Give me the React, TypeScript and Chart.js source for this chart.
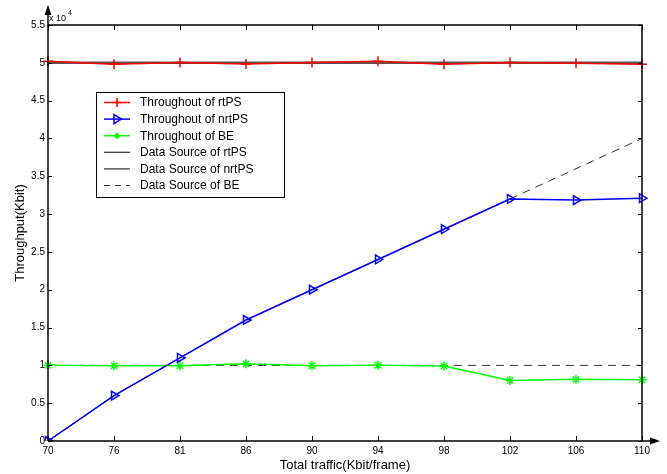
import React, { useEffect, useRef } from "react";
import { Chart, registerables } from "chart.js";

Chart.register(...registerables);

const categories = ["70", "76", "81", "86", "90", "94", "98", "102", "106", "110"];
const rtpsThroughput = [50200, 49800, 50050, 49850, 50050, 50200, 49800, 50050, 49950, 49800];
const nrtpsThroughput = [0, 6000, 11000, 16000, 20000, 24000, 28000, 32000, 31850, 32100];
const beThroughput = [10000, 9950, 9950, 10200, 9950, 10000, 9900, 8000, 8150, 8100];
const rtpsSource = [50000, 50000, 50000, 50000, 50000, 50000, 50000, 50000, 50000, 50000];
const nrtpsSource = [0, 6000, 11000, 16000, 20000, 24000, 28000, 32000, 36000, 40000];
const beSource = [10000, 10000, 10000, 10000, 10000, 10000, 10000, 10000, 10000, 10000];
const yTickValues = [0, 5000, 10000, 15000, 20000, 25000, 30000, 35000, 40000, 45000, 50000, 55000];
const legendLabels = [
  "Throughout of rtPS",
  "Throughout of nrtPS",
  "Throughout of BE",
  "Data Source of rtPS",
  "Data Source of nrtPS",
  "Data Source of BE",
];

const FONT = "'Liberation Sans', Arial, Helvetica, sans-serif";

function drawMarker(ctx: CanvasRenderingContext2D, kind: string, x: number, y: number, color: string) {
  ctx.save();
  ctx.strokeStyle = color;
  ctx.fillStyle = color;
  ctx.lineWidth = 1.5;
  ctx.setLineDash([]);
  ctx.beginPath();
  if (kind === "cross") {
    ctx.moveTo(x - 4.5, y);
    ctx.lineTo(x + 4.5, y);
    ctx.moveTo(x, y - 4.5);
    ctx.lineTo(x, y + 4.5);
    ctx.stroke();
  } else if (kind === "tri") {
    ctx.moveTo(x + 4.5, y);
    ctx.lineTo(x - 3, y - 4.5);
    ctx.lineTo(x - 3, y + 4.5);
    ctx.closePath();
    ctx.stroke();
  } else if (kind === "star") {
    ctx.moveTo(x - 3, y);
    ctx.lineTo(x + 3, y);
    ctx.moveTo(x, y - 3);
    ctx.lineTo(x, y + 3);
    ctx.moveTo(x - 2, y - 2);
    ctx.lineTo(x + 2, y + 2);
    ctx.moveTo(x - 2, y + 2);
    ctx.lineTo(x + 2, y - 2);
    ctx.stroke();
  }
  ctx.restore();
}

const framePlugin = {
  id: "framePlugin",
  afterDraw(chart: any) {
    const ctx: CanvasRenderingContext2D = chart.ctx;
    const { left, right, top, bottom } = chart.chartArea;
    const xs = chart.scales.x;
    const ys = chart.scales.y;
    ctx.save();
    ctx.strokeStyle = "#000";
    ctx.fillStyle = "#000";
    ctx.lineWidth = 1.5;
    ctx.setLineDash([]);
    // frame
    ctx.beginPath();
    ctx.moveTo(left, bottom);
    ctx.lineTo(left, 12);
    ctx.moveTo(left, top);
    ctx.lineTo(right, top);
    ctx.lineTo(right, bottom);
    ctx.moveTo(left, bottom);
    ctx.lineTo(652, bottom);
    ctx.stroke();
    // arrows
    ctx.beginPath();
    ctx.moveTo(left, 5);
    ctx.lineTo(left - 3.5, 15);
    ctx.lineTo(left + 3.5, 15);
    ctx.closePath();
    ctx.fill();
    ctx.beginPath();
    ctx.moveTo(660, bottom);
    ctx.lineTo(650, bottom - 3.5);
    ctx.lineTo(650, bottom + 3.5);
    ctx.closePath();
    ctx.fill();
    // inward ticks
    ctx.lineWidth = 1;
    ctx.beginPath();
    for (let i = 0; i < categories.length; i++) {
      const px = Math.round(xs.getPixelForValue(i)) + 0.5;
      ctx.moveTo(px, bottom);
      ctx.lineTo(px, bottom - 5);
      ctx.moveTo(px, top);
      ctx.lineTo(px, top + 5);
    }
    for (const v of yTickValues) {
      const py = Math.round(ys.getPixelForValue(v)) + 0.5;
      ctx.moveTo(left, py);
      ctx.lineTo(left + 4, py);
      ctx.moveTo(right, py);
      ctx.lineTo(right - 4, py);
    }
    ctx.stroke();
    // exponent
    ctx.font = `9px ${FONT}`;
    ctx.textBaseline = "alphabetic";
    ctx.textAlign = "left";
    ctx.fillText("x 10", left + 1, 21);
    ctx.font = `7px ${FONT}`;
    ctx.fillText("4", left + 20, 15);

    // legend
    const bx = 96, by = 92, bw = 188, bh = 105;
    ctx.fillStyle = "#fff";
    ctx.fillRect(bx, by, bw, bh);
    ctx.strokeStyle = "#000";
    ctx.lineWidth = 1;
    ctx.strokeRect(bx + 0.5, by + 0.5, bw, bh);
    const ds = chart.data.datasets;
    const markers = ["cross", "tri", "star", "", "", ""];
    ctx.font = `12px ${FONT}`;
    ctx.textBaseline = "middle";
    for (let i = 0; i < legendLabels.length; i++) {
      const y = 102.5 + i * 16.6;
      const d = ds[i];
      ctx.save();
      ctx.strokeStyle = i >= 3 ? "#333333" : d.borderColor;
      ctx.lineWidth = i >= 3 ? 1.2 : d.borderWidth;
      ctx.setLineDash(i === 5 ? [6, 5] : []);
      ctx.beginPath();
      ctx.moveTo(104, y);
      ctx.lineTo(130, y);
      ctx.stroke();
      ctx.restore();
      if (markers[i]) drawMarker(ctx, markers[i], 117, y, d.borderColor);
      ctx.fillStyle = "#000";
      ctx.fillText(legendLabels[i], 140, y + 0.5);
    }
    ctx.restore();
  },
};

export default function App() {
  const ref = useRef<HTMLCanvasElement>(null);
  useEffect(() => {
    document.body.style.margin = "0";
    const canvas = ref.current!;
    const chart = new Chart(canvas, {
      type: "line",
      data: {
        labels: categories,
        datasets: [
          {
            label: legendLabels[0],
            data: rtpsThroughput,
            borderColor: "#ff0000",
            backgroundColor: "#ff0000",
            borderWidth: 1.5,
            pointStyle: "cross",
            pointRadius: 5,
            pointBorderWidth: 1.5,
            fill: false,
          },
          {
            label: legendLabels[1],
            data: nrtpsThroughput,
            borderColor: "#0000ff",
            backgroundColor: "rgba(0,0,0,0)",
            borderWidth: 1.5,
            pointStyle: "triangle",
            rotation: 90,
            pointRadius: 5,
            pointBorderWidth: 1.5,
            fill: false,
          },
          {
            label: legendLabels[2],
            data: beThroughput,
            borderColor: "#00ff00",
            backgroundColor: "#00ff00",
            borderWidth: 1.5,
            pointStyle: "star",
            pointRadius: 4.5,
            pointBorderWidth: 1.5,
            fill: false,
          },
          {
            label: legendLabels[3],
            data: rtpsSource,
            borderColor: "#555555",
            borderWidth: 2.5,
            pointRadius: 0,
            fill: false,
          },
          {
            label: legendLabels[4],
            data: nrtpsSource,
            borderColor: "#000000",
            borderWidth: 1,
            pointRadius: 0,
            fill: false,
            segment: {
              borderDash: (c: any) => (c.p0DataIndex >= 7 ? [8, 6] : undefined),
              borderColor: (c: any) => (c.p0DataIndex >= 7 ? "#333333" : undefined),
            },
          },
          {
            label: legendLabels[5],
            data: beSource,
            borderColor: "#333333",
            borderWidth: 1,
            borderDash: [8, 6],
            pointRadius: 0,
            fill: false,
          },
        ],
      },
      options: {
        responsive: false,
        animation: false,
        devicePixelRatio: 1,
        layout: { padding: { top: 25, right: 25, left: 0, bottom: 0 } },
        plugins: { legend: { display: false }, tooltip: { enabled: false } },
        elements: { line: { tension: 0 } },
        scales: {
          x: {
            type: "category",
            offset: false,
            grid: { display: false, drawTicks: false },
            border: { display: false },
            ticks: {
              font: { family: FONT, size: 10 },
              color: "#000",
              padding: 4,
              maxRotation: 0,
              autoSkip: false,
            },
            title: {
              display: true,
              text: "Total traffic(Kbit/frame)",
              font: { family: FONT, size: 13 },
              color: "#000",
              padding: { top: 0, bottom: 1 },
            },
            afterFit: (s: any) => {
              s.height = 33;
            },
          },
          y: {
            min: 0,
            max: 55000,
            grid: { display: false, drawTicks: false },
            border: { display: false },
            ticks: {
              stepSize: 5000,
              font: { family: FONT, size: 10 },
              color: "#000",
              padding: 3,
              callback: (v: any) => String(Number(v) / 10000),
            },
            title: {
              display: true,
              text: "Throughput(Kbit)",
              font: { family: FONT, size: 13 },
              color: "#000",
              padding: { top: 13, bottom: 0 },
            },
            afterFit: (s: any) => {
              s.width = 48;
            },
          },
        },
      },
      plugins: [framePlugin],
    });
    return () => chart.destroy();
  }, []);
  return (
    <div style={{ position: "absolute", left: 0, top: 0, width: 667, height: 474, background: "#fff" }}>
      <canvas ref={ref} width={667} height={474} />
    </div>
  );
}
